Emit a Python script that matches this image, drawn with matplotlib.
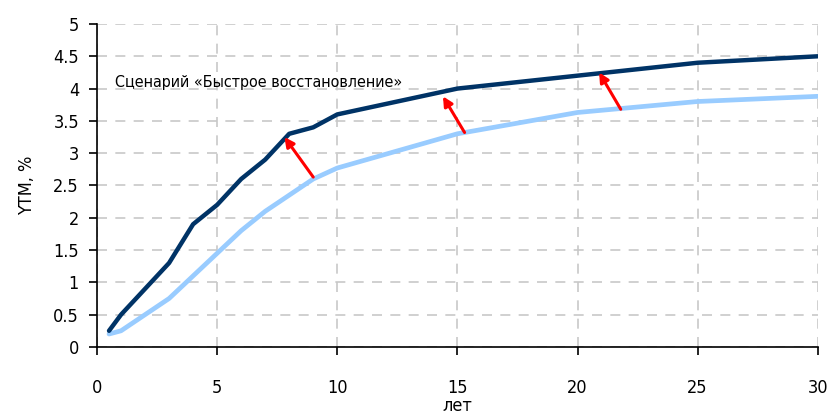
import matplotlib.pyplot as plt

# Узкое начертание DejaVu Sans (Condensed) с кириллицей
plt.rcParams['font.family'] = ['DejaVu Sans']
plt.rcParams['font.stretch'] = 'condensed'

# Сроки (лет) и доходности (YTM, %)
years = [0.5, 1, 2, 3, 4, 5, 6, 7, 8, 9, 10, 15, 20, 25, 30]
ytm_fast = [0.25, 0.5, 0.9, 1.3, 1.9, 2.2, 2.6, 2.9, 3.3, 3.4, 3.6, 4.0, 4.2, 4.4, 4.5]
ytm_base = [0.2, 0.25, 0.5, 0.75, 1.1, 1.45, 1.8, 2.1, 2.35, 2.6, 2.77, 3.3, 3.63, 3.8, 3.88]

# Стрелки сдвига кривой: (x0, y0) -> (x1, y1)
arrows = [
    (9.0, 2.63, 7.8, 3.25),
    (15.3, 3.32, 14.4, 3.88),
    (21.8, 3.68, 20.9, 4.25),
]

fig = plt.figure(figsize=(8.4, 4.18), dpi=100)
ax = fig.add_axes([0.1155, 0.17, 0.858, 0.7726])

ax.plot(years, ytm_base, color='#99ccff', lw=3.4, solid_capstyle='round', zorder=3)
ax.plot(years, ytm_fast, color='#003366', lw=3.2, solid_capstyle='round', zorder=4)

for x0, y0, x1, y1 in arrows:
    ax.annotate('', xy=(x1, y1), xytext=(x0, y0),
                arrowprops=dict(arrowstyle='-|>', color='#ff0000', lw=2.2,
                                mutation_scale=14, shrinkA=0, shrinkB=0),
                zorder=5)

ax.text(0.75, 4.1, 'Сценарий «Быстрое восстановление»', fontsize=11.5,
        va='center', ha='left')

ax.set_xlim(0, 30)
ax.set_ylim(0, 5)
ax.set_xticks(range(0, 31, 5))
ax.set_yticks([i * 0.5 for i in range(11)])
ax.set_yticklabels(['0', '0.5', '1', '1.5', '2', '2.5', '3', '3.5', '4', '4.5', '5'])

ax.grid(True, color='#c8c8c8', ls=(0, (6, 5)), lw=1.2)
ax.set_axisbelow(True)
for s in ['top', 'right']:
    ax.spines[s].set_visible(False)
for s in ['left', 'bottom']:
    ax.spines[s].set_color('black')
    ax.spines[s].set_linewidth(1.2)

ax.tick_params(axis='x', length=6, width=1.2, pad=17, labelsize=13)
ax.tick_params(axis='y', length=6, width=1.2, pad=7, labelsize=13)
ax.set_ylabel('YTM, %', fontsize=13, labelpad=12)
ax.set_xlabel('лет', fontsize=13, labelpad=0)

fig.savefig('out.png', dpi=100)
